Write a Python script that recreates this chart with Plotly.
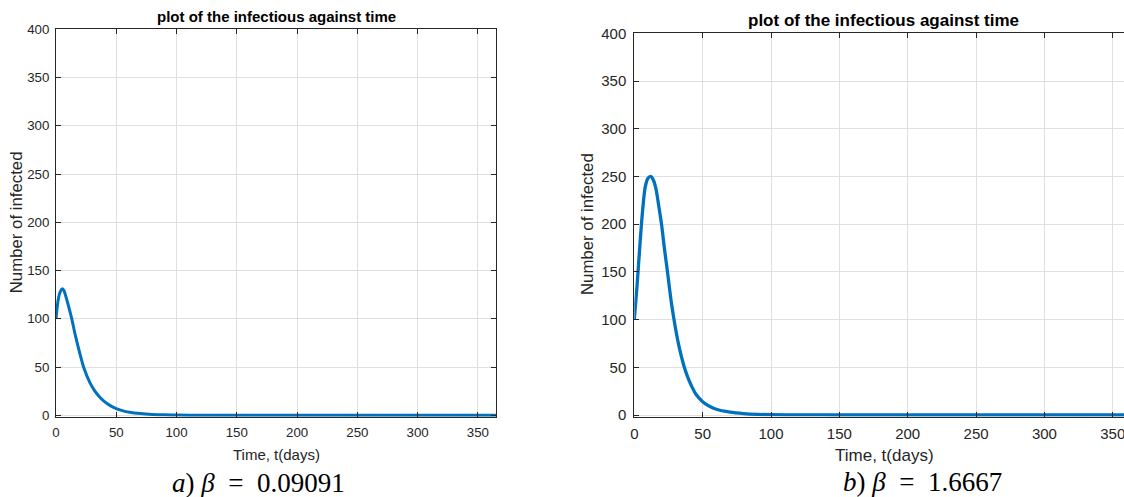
import plotly.graph_objects as go

# ---- data ----
t_a = [0, 1, 2, 3.5, 5, 6.5, 8, 10, 13, 16, 20, 23, 28, 32, 36, 40, 45, 50, 55, 61,
       70, 80, 90, 100, 120, 150, 200, 250, 300, 365]
infected_a = [100, 112, 121, 128, 131, 129.5, 124, 115, 100.5, 83, 63, 49.5, 34.2, 25.6, 19.2, 14.4,
              10.0, 7.0, 4.9, 3.2, 1.8, 0.9, 0.45, 0.2, 0.05, 0, 0, 0, 0, 0]

t_b = [0, 2, 4, 6, 8, 10, 12, 14, 16, 18, 20, 22, 24, 27, 30, 33, 36, 39, 42, 45, 50,
       55, 60, 70, 80, 90, 100, 120, 150, 200, 250, 300, 365]
infected_b = [100, 135, 176, 213, 239, 248, 250, 246, 236, 218, 199, 175, 153, 119, 92, 70,
              53, 40, 30, 22, 14, 9.2, 6.0, 3.0, 1.5, 0.7, 0.35, 0.1, 0, 0, 0, 0, 0]

x_ticks = [0, 50, 100, 150, 200, 250, 300, 350]
y_ticks = [0, 50, 100, 150, 200, 250, 300, 350, 400]

title_text = "plot of the infectious against time"
xlabel = "Time, t(days)"
ylabel = "Number of infected"
caption_a = "<i>a</i>)\u00a0<i>β</i>\u00a0\u00a0=\u00a0\u00a00.09091"
caption_b = "<i>b</i>)\u00a0<i>β</i>\u00a0\u00a0=\u00a0\u00a01.6667"

# ---- layout geometry (pixels) ----
W, H = 1124, 497
LINE = "#0072BD"
AX = "#262626"
GRID = "#dfdfdf"
FONT = "Liberation Sans, Arial, Helvetica, sans-serif"
YMIN = -1.6


def px_x(p):
    return p / W


def px_y(p):
    return (H - p) / H


# left panel: x 0 -> 56px, 365 -> 496px ; y 0 -> 415.3px, 400 -> 29.3px
la_x0, la_x1 = 56, 496
la_y400, la_y0 = 29.3, 415.3
la_ppu = (la_y0 - la_y400) / 400
la_bottom = la_y0 - YMIN * la_ppu

# right panel: x 0 -> 634.3px, 1.367 px/day ; y 0 -> 415px, 400 -> 33.3px
rb_x0 = 634.3
rb_ppd = 1.367
rb_xmax = (W - rb_x0) / rb_ppd
rb_y400, rb_y0 = 33.3, 415.0
rb_ppu = (rb_y0 - rb_y400) / 400
rb_bottom = rb_y0 - YMIN * rb_ppu

fig = go.Figure()
fig.add_trace(go.Scatter(x=t_a, y=infected_a, mode="lines",
                         line=dict(color=LINE, width=3, shape="spline", smoothing=0.8),
                         xaxis="x", yaxis="y", showlegend=False))
fig.add_trace(go.Scatter(x=t_b, y=infected_b, mode="lines",
                         line=dict(color=LINE, width=3.3, shape="spline", smoothing=0.8),
                         xaxis="x2", yaxis="y2", showlegend=False))


def axis_common(size):
    return dict(showline=True, linecolor=AX, linewidth=1, ticks="inside", ticklen=5,
                tickcolor=AX, showgrid=True, gridcolor=GRID, gridwidth=1, zeroline=False,
                automargin=False, ticklabeloverflow="allow",
                tickfont=dict(family=FONT, size=size, color=AX))


fig.update_layout(
    template="none",
    width=W, height=H, autosize=False,
    margin=dict(l=0, r=0, t=0, b=0, pad=0),
    paper_bgcolor="white", plot_bgcolor="white",
    xaxis=dict(domain=[px_x(la_x0), px_x(la_x1)], range=[0, 365], tickvals=x_ticks,
               mirror="ticks", anchor="y", ticklabelstandoff=3, **axis_common(13.3)),
    yaxis=dict(domain=[px_y(la_bottom), px_y(la_y400)], range=[YMIN, 400], tickvals=y_ticks,
               mirror="ticks", anchor="x", ticklabelstandoff=3, **axis_common(13.3)),
    xaxis2=dict(domain=[px_x(rb_x0), 1.0], range=[0, rb_xmax], tickvals=x_ticks,
                mirror="ticks", anchor="y2", ticklabelstandoff=3, **axis_common(15)),
    yaxis2=dict(domain=[px_y(rb_bottom), px_y(rb_y400)], range=[YMIN, 400], tickvals=y_ticks,
                mirror=False, anchor="x2", ticklabelstandoff=4, **axis_common(15)),
)

ann = []
# titles
ann.append(dict(text="<b>" + title_text + "</b>", x=px_x(276), y=px_y(16.5), xref="paper", yref="paper",
                xanchor="center", yanchor="middle", showarrow=False,
                font=dict(family=FONT, size=15, color="black")))
ann.append(dict(text="<b>" + title_text + "</b>", x=px_x(883), y=px_y(20), xref="paper", yref="paper",
                xanchor="center", yanchor="middle", showarrow=False,
                font=dict(family=FONT, size=17, color="black")))
# x labels
ann.append(dict(text=xlabel, x=px_x(276), y=px_y(454), xref="paper", yref="paper",
                xanchor="center", yanchor="middle", showarrow=False,
                font=dict(family=FONT, size=15, color=AX)))
ann.append(dict(text=xlabel, x=px_x(884), y=px_y(455), xref="paper", yref="paper",
                xanchor="center", yanchor="middle", showarrow=False,
                font=dict(family=FONT, size=17, color=AX)))
# y labels
ann.append(dict(text=ylabel, x=px_x(16), y=px_y(222.3), xref="paper", yref="paper",
                xanchor="center", yanchor="middle", showarrow=False, textangle=-90,
                font=dict(family=FONT, size=16.8, color=AX)))
ann.append(dict(text=ylabel, x=px_x(588), y=px_y(224), xref="paper", yref="paper",
                xanchor="center", yanchor="middle", showarrow=False, textangle=-90,
                font=dict(family=FONT, size=16.8, color=AX)))
# captions
ann.append(dict(text=caption_a, x=px_x(258), y=px_y(483), xref="paper", yref="paper",
                xanchor="center", yanchor="middle", showarrow=False,
                font=dict(family="Liberation Serif, DejaVu Serif, serif", size=27, color="black")))
ann.append(dict(text=caption_b, x=px_x(922), y=px_y(482), xref="paper", yref="paper",
                xanchor="center", yanchor="middle", showarrow=False,
                font=dict(family="Liberation Serif, DejaVu Serif, serif", size=27, color="black")))
fig.update_layout(annotations=ann)

fig.write_html("out.html", config={"displayModeBar": False},
               post_script="document.body.style.margin='0';document.body.style.padding='0';"
                           "document.body.style.overflow='hidden';")
